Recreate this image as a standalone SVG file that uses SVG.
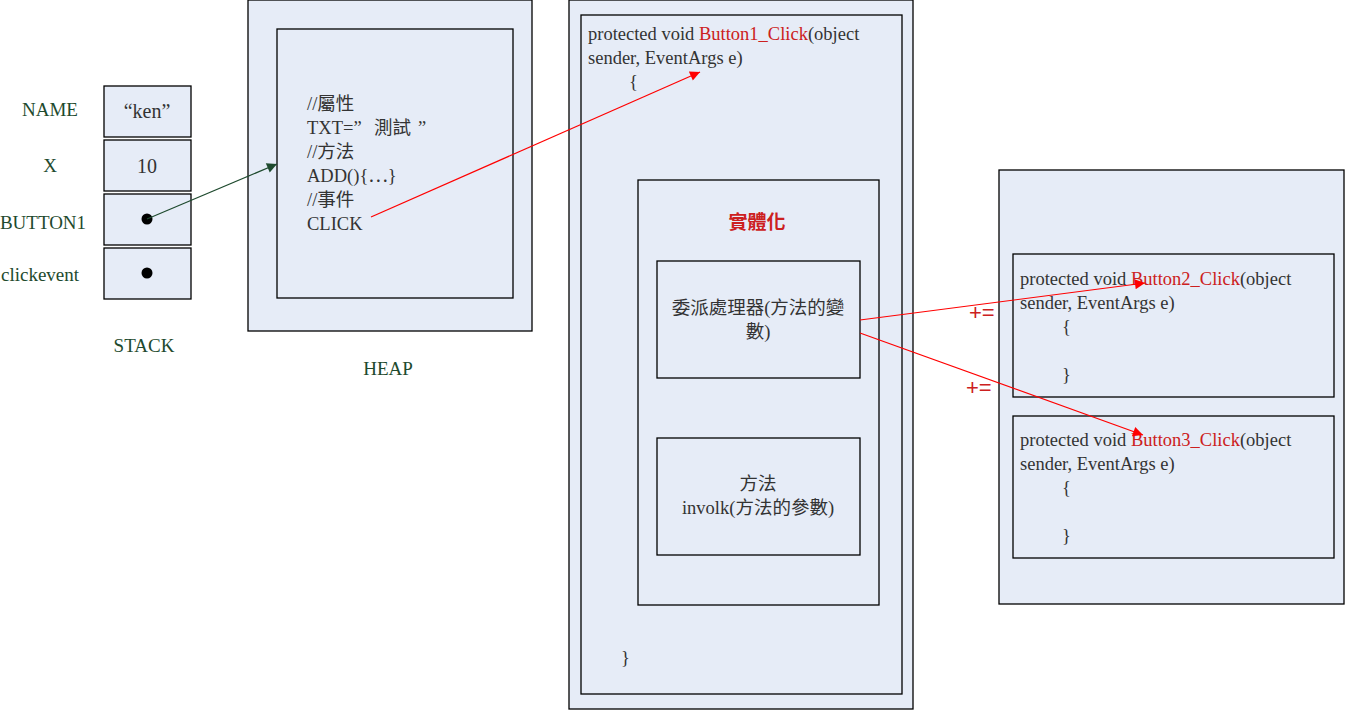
<svg xmlns="http://www.w3.org/2000/svg" width="1345" height="710" viewBox="0 0 1345 710">
<defs>
<style>
.box{fill:#E6ECF7;stroke:#000;stroke-width:1.3}
.t{font-family:"Liberation Serif","Noto Sans CJK TC",serif;font-size:18.5px;fill:#333}
.g{font-family:"Liberation Serif","Noto Sans CJK TC",serif;font-size:19px;fill:#1E4A2E}
.r{fill:#CC2020}
.c{text-anchor:middle}
.pe{font-family:"Liberation Sans","DejaVu Sans",sans-serif;font-size:22px;fill:#CC2020}
</style>
<marker id="ag" viewBox="0 0 10 10" refX="10" refY="5" markerWidth="14" markerHeight="10" markerUnits="userSpaceOnUse" orient="auto"><path d="M0,0L10,5L0,10z" fill="#1E4A2E"/></marker>
<marker id="ar" viewBox="0 0 10 10" refX="10" refY="5" markerWidth="14" markerHeight="10" markerUnits="userSpaceOnUse" orient="auto"><path d="M0,0L10,5L0,10z" fill="#FF0000"/></marker>
</defs>
<rect width="1345" height="710" fill="#fff"/>
<g id="stack">
<rect class="box" x="104" y="86" width="87" height="51"/>
<rect class="box" x="104" y="140" width="87" height="51"/>
<rect class="box" x="104" y="194" width="87" height="51"/>
<rect class="box" x="104" y="248" width="87" height="51"/>
<text class="t c" x="147" y="118" style="font-size:20px">“ken”</text>
<text class="t c" x="147" y="173" style="font-size:20px">10</text>
<circle cx="147" cy="219" r="5.5" fill="#000"/>
<circle cx="147" cy="273" r="5.5" fill="#000"/>
<text class="g c" x="50" y="116">NAME</text>
<text class="g c" x="50" y="172">X</text>
<text class="g c" x="43" y="229">BUTTON1</text>
<text class="g c" x="40" y="281">clickevent</text>
<text class="g c" x="144" y="352">STACK</text>
</g>
<g id="heap">
<rect class="box" x="248" y="0" width="284" height="331"/>
<rect class="box" x="277" y="29" width="236" height="269"/>
<text class="t" x="307" y="110">//屬性</text>
<text class="t" x="307" y="134">TXT=”<tspan x="374">測試</tspan><tspan x="418">”</tspan></text>
<text class="t" x="307" y="158">//方法</text>
<text class="t" x="307" y="182">ADD(){⋯}</text>
<text class="t" x="307" y="206">//事件</text>
<text class="t" x="307" y="230">CLICK</text>
<text class="g c" x="388" y="375">HEAP</text>
</g>
<g id="button1">
<rect class="box" x="569" y="0" width="344" height="709"/>
<rect class="box" x="581" y="15" width="321" height="679"/>
<text class="t" x="588" y="40">protected void <tspan class="r">Button1_Click</tspan>(object</text>
<text class="t" x="588" y="64">sender, EventArgs e)</text>
<text class="t" x="629" y="88">{</text>
<text class="t" x="621" y="664">}</text>
</g>
<g id="instance">
<rect class="box" x="638" y="180" width="241" height="425"/>
<text class="t c r" x="757" y="229" style="font-weight:bold;font-size:19px">實體化</text>
</g>
<g id="delegate">
<rect class="box" x="657" y="261" width="203" height="117"/>
<text class="t c" x="758" y="314">委派處理器(方法的變</text>
<text class="t c" x="758" y="338">數)</text>
</g>
<g id="method">
<rect class="box" x="657" y="438" width="203" height="117"/>
<text class="t c" x="758" y="490">方法</text>
<text class="t c" x="758" y="514">involk(方法的參數)</text>
</g>
<g id="handlers">
<rect class="box" x="999" y="170" width="345" height="434"/>
</g>
<g id="button2">
<rect class="box" x="1013" y="254" width="321" height="143"/>
<text class="t" x="1020" y="285">protected void <tspan class="r">Button2_Click</tspan>(object</text>
<text class="t" x="1020" y="309">sender, EventArgs e)</text>
<text class="t" x="1062" y="333">{</text>
<text class="t" x="1062" y="381">}</text>
</g>
<g id="button3">
<rect class="box" x="1013" y="416" width="321" height="142"/>
<text class="t" x="1020" y="446">protected void <tspan class="r">Button3_Click</tspan>(object</text>
<text class="t" x="1020" y="470">sender, EventArgs e)</text>
<text class="t" x="1062" y="494">{</text>
<text class="t" x="1062" y="542">}</text>
</g>
<g id="connectors" fill="none" stroke-width="1.2">
<line x1="147" y1="219" x2="277" y2="164" stroke="#1E4A2E" marker-end="url(#ag)"/>
<line x1="371" y1="217" x2="700" y2="72" stroke="#FF0000" marker-end="url(#ar)"/>
<line x1="860" y1="320" x2="1145" y2="283" stroke="#FF0000" marker-end="url(#ar)"/>
<line x1="860" y1="333" x2="1143" y2="435" stroke="#FF0000" marker-end="url(#ar)"/>
<text class="pe" x="969" y="320" stroke="none">+=</text>
<text class="pe" x="966" y="395" stroke="none">+=</text>
</g>
</svg>
